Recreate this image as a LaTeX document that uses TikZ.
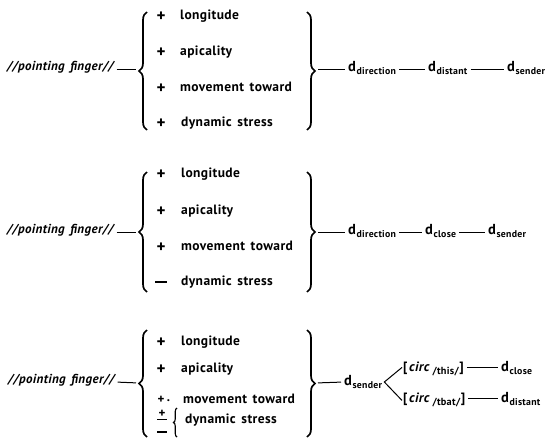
\documentclass[tikz,border=0pt]{standalone}
\usepackage{fontspec}
\setmainfont{PT Sans}[LetterSpace=3, WordSpace=1.5]
\usetikzlibrary{decorations.pathreplacing}

% d with a lowered subscript, and the bracketed circumstance symbol
\newcommand{\dsym}[1]{d\kern0.5pt\raisebox{-3pt}{\fontsize{9.8}{10}\selectfont #1}}
\newcommand{\circsym}[1]{[\kern1.5pt{\itshape circ}\kern3pt\raisebox{-3pt}{\fontsize{10.3}{11}\selectfont #1}\kern0.5pt]}
\newcommand{\minussign}{\rule[2.4pt]{12pt}{1.8pt}}

\tikzset{
  root/.style={font=\fontsize{13}{15}\selectfont\bfseries\itshape, anchor=mid west, inner sep=0pt},
  feat/.style={font=\fontsize{13.5}{15}\selectfont\bfseries, anchor=mid west, inner sep=0pt},
  sign/.style={font=\fontsize{17}{18}\selectfont\bfseries, anchor=center, inner sep=0pt},
  smallsign/.style={font=\fontsize{13}{14}\selectfont\bfseries, anchor=center, inner sep=0pt},
  dnode/.style={font=\fontsize{14.5}{16}\selectfont\bfseries, anchor=base west, inner sep=0pt},
  cnode/.style={font=\fontsize{13.5}{15}\selectfont\bfseries, anchor=base west, inner sep=0pt},
  link/.style={line width=1pt, shorten <=3pt, shorten >=3pt},
  bigbrace/.style={decorate, decoration={brace, amplitude=8pt}, line width=1.7pt},
  smallbrace/.style={decorate, decoration={brace, amplitude=3.5pt}, line width=1.1pt},
}

\begin{document}
\begin{tikzpicture}[x=1pt,y=-1pt]
\useasboundingbox (0,0) rectangle (549,439);

% ---------- first derivation: distant ----------
\coordinate (y1) at (0,69);
\node[root] (pf1) at (7,68) {//pointing finger//};
\draw[bigbrace] (147,130) -- (147,12);
\coordinate (lt1) at (139,69);
\draw[link] (pf1.east |- y1) -- (lt1);
\node[sign] (s11) at (161,17) {+};
\node[sign] (s12) at (161,53) {+};
\node[sign] (s13) at (161,89) {+};
\node[sign] (s14) at (161,124) {+};
\node[feat] (f11) at (180,17) {longitude};
\node[feat] (f12) at (180,53) {apicality};
\node[feat] (f13) at (180,89) {movement toward};
\node[feat] (f14) at (181,124) {dynamic stress};
\draw[bigbrace] (307,12) -- (307,130);
\coordinate (rt1) at (315,69);
\node[dnode] (d11) at (348,71) {\dsym{direction}};
\node[dnode] (d12) at (428,71) {\dsym{distant}};
\node[dnode] (d13) at (507,71) {\dsym{sender}};
\draw[link] (rt1) -- (d11.west |- y1);
\draw[link] (d11.east |- y1) -- (d12.west |- y1);
\draw[link] (d12.east |- y1) -- (d13.west |- y1);

% ---------- second derivation: close ----------
\coordinate (y2) at (0,232);
\node[root] (pf2) at (7,231) {//pointing finger//};
\draw[bigbrace] (147,292) -- (147,172);
\coordinate (lt2) at (139,232);
\draw[link] (pf2.east |- y2) -- (lt2);
\node[sign] (s21) at (161,175) {+};
\node[sign] (s22) at (161,212) {+};
\node[sign] (s23) at (161,248) {+};
\node[sign] (s24) at (161,283) {\minussign};
\node[feat] (f21) at (181,175) {longitude};
\node[feat] (f22) at (181,212) {apicality};
\node[feat] (f23) at (181,248) {movement toward};
\node[feat] (f24) at (181,283) {dynamic stress};
\draw[bigbrace] (307,172) -- (307,292);
\coordinate (rt2) at (315,232);
\node[dnode] (d21) at (348,234) {\dsym{direction}};
\node[dnode] (d22) at (425,234) {\dsym{close}};
\node[dnode] (d23) at (488,234) {\dsym{sender}};
\draw[link] (rt2) -- (d21.west |- y2);
\draw[link] (d21.east |- y2) -- (d22.west |- y2);
\draw[link] (d22.east |- y2) -- (d23.west |- y2);

% ---------- third derivation: sender with circumstance ----------
\coordinate (y3) at (0,382);
\node[root] (pf3) at (8,381) {//pointing finger//};
\draw[bigbrace] (147,437) -- (147,330);
\coordinate (lt3) at (139,383);
\draw[link] (pf3.east |- y3) -- (lt3);
\node[sign] (s31) at (161,343) {+};
\node[sign] (s32) at (161,370) {+};
\node[smallsign] (s33) at (161,400) {+};
\node[smallsign] (s33d) at (168.5,401) {.};
\node[smallsign] (s34a) at (162,413.5) {+};
\draw[line width=1.1pt] (157,419.5) -- (167,419.5);
\node[smallsign] (s34b) at (162,433) {\rule[2.4pt]{10pt}{1.5pt}};
\draw[smallbrace] (177,437) -- (177,408);
\node[feat] (f31) at (181,343) {longitude};
\node[feat] (f32) at (181,370) {apicality};
\node[feat] (f33) at (183,401) {movement toward};
\node[feat] (f34) at (185,421) {dynamic stress};
\draw[bigbrace] (307,330) -- (307,437);
\coordinate (rt3) at (315,383);
\node[dnode] (d31) at (344,385) {\dsym{sender}};
\draw[link] (rt3) -- (d31.west |- y3);
\coordinate (fork) at ([xshift=2pt]d31.east |- y3);
\node[cnode] (c31) at (403,371) {\circsym{/this/}};
\node[cnode] (c32) at (403,402) {\circsym{/tbat/}};
\node[dnode] (d32) at (501,371) {\dsym{close}};
\node[dnode] (d33) at (501,402) {\dsym{distant}};
\coordinate (c31in) at ([xshift=-1pt,yshift=1pt]c31.west);
\coordinate (c32in) at ([xshift=-1pt,yshift=-1pt]c32.west);
\draw[line width=1pt] (c31in) -- (fork) -- (c32in);
\draw[link] (c31.east |- 0,367) -- (d32.west |- 0,367);
\draw[link] (c32.east |- 0,398) -- (d33.west |- 0,398);
\end{tikzpicture}
\end{document}
